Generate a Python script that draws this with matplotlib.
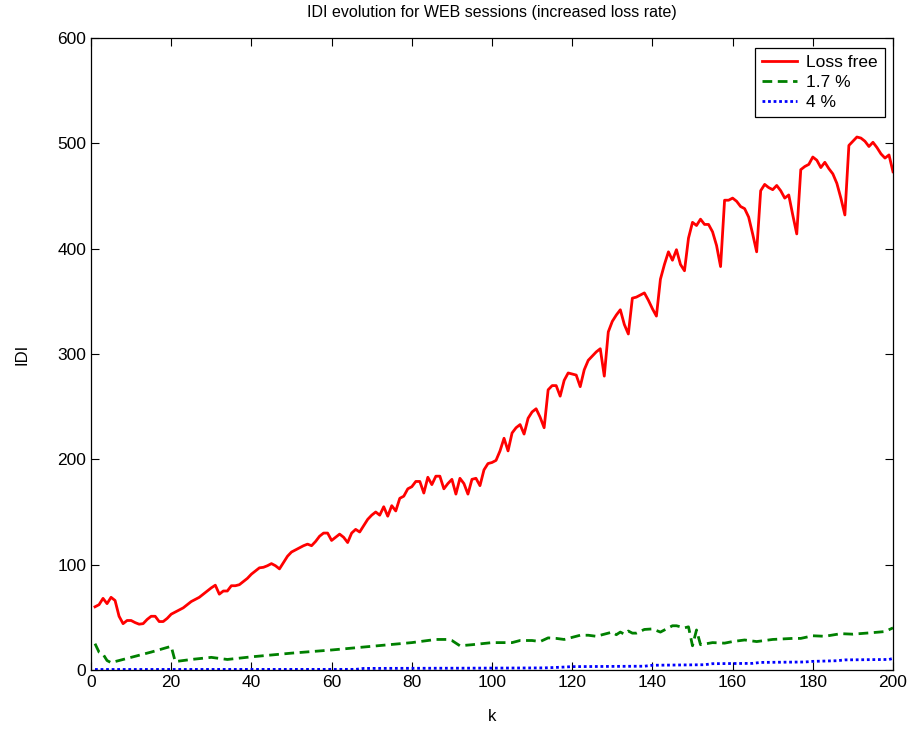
import matplotlib
matplotlib.use("Agg")
import matplotlib.pyplot as plt
import numpy as np

plt.rcParams['font.family'] = ['Liberation Sans', 'DejaVu Sans']

k = list(range(1, 201))
loss_free = [
    60, 62, 68, 63, 69, 66, 51, 44, 47, 47,
    45, 43.5, 44, 48, 51, 51, 46, 46, 49, 53,
    55, 57, 59, 62, 65, 67, 69, 72, 75, 78,
    80.5, 72, 75, 75, 80, 80, 81, 84, 87, 91,
    94, 97, 97.5, 99, 101, 99, 96, 102, 108, 112,
    114, 116, 118, 119.5, 118, 122, 127, 130, 130, 123,
    126, 129, 126, 121, 130, 133.5, 131, 137, 143, 147,
    150, 147, 155, 146, 156, 151, 163, 165, 172, 174,
    179, 179, 168, 183, 176, 184, 184, 172, 177, 181,
    167, 182, 177, 167, 181, 182, 175, 190, 196, 197,
    199, 208, 220, 208, 225, 230, 233, 224, 239, 245,
    248, 240, 230, 266, 270, 270, 260, 275, 282, 281,
    280, 269, 285, 294, 298, 302, 305, 279, 321, 331,
    337, 342, 328, 319, 353, 354, 356, 358, 351, 343,
    336, 371, 385, 397, 389, 399, 385, 379, 410, 425,
    422, 428, 423, 423, 416, 403, 383, 446, 446, 448,
    445, 440, 438, 430, 414, 397, 455, 461, 458, 456,
    460, 455, 448, 451, 432, 414, 475, 478, 480, 487,
    484, 477, 482, 476, 471, 462, 448, 432, 498, 502,
    506, 505, 502, 497, 501, 496, 490, 486, 489, 473,
]

k_green = [1, 2, 3, 4, 5, 10, 15, 20, 21, 25, 30, 32, 34, 40, 50, 60, 70, 80,
           86, 89, 90, 92, 95, 100, 105, 107, 110, 112, 114, 116, 118, 120,
           122, 124, 126, 128, 130, 131, 132, 133, 134, 135, 136, 138, 140,
           142, 143, 145, 146, 148, 149, 150, 151, 152, 155, 158, 160, 163,
           166, 170, 175, 177, 180, 183, 187, 190, 195, 198, 200]
loss_17 = [25, 17, 15, 9, 7, 12, 17, 22.5, 8, 10, 12, 11, 10, 12.5, 16, 19, 22.5, 26,
           29, 29, 28, 23, 24, 26, 26, 28, 28, 27, 30.5, 30, 29, 31,
           33, 33, 32, 34, 36, 33.5, 36, 34, 37, 35, 35, 38.5, 39,
           36, 38, 42, 42, 40, 41, 23, 38, 24, 26, 25.5, 27, 28.5,
           27, 29, 30, 30, 32.5, 32, 34.5, 34, 35.5, 36.5, 40]

k_blue = [1, 66, 68, 100, 113, 117, 120, 138, 140, 153, 155, 165, 167, 178, 180,
          186, 188, 199, 200]
loss_4 = [0.5, 0.6, 1.5, 1.8, 2.0, 2.6, 3.2, 3.6, 4.5, 5, 6, 6.3, 7.2, 7.6, 8.2,
          8.8, 9.6, 10, 11]

fig = plt.figure(figsize=(9.09, 7.31), dpi=100)
ax = fig.add_axes([91/909, 61/731, (893-91)/909, (670-38)/731])

ax.plot(k, loss_free, color='#ff0000', lw=2, label='Loss free')
ax.plot(k_green, loss_17, color='#008000', lw=2, ls=(0, (3.5, 2)), label='1.7 %')
ax.plot(k_blue, loss_4, color='#0000ff', lw=2, ls=(0, (1, 1)), label='4 %')

ax.set_xlim(0, 200)
ax.set_ylim(0, 600)
ax.set_xticks(range(0, 201, 20))
ax.set_yticks(range(0, 601, 100))
ax.tick_params(direction='in', top=True, right=True, labelsize=12.5, length=6, width=0.8)
for s in ax.spines.values():
    s.set_linewidth(0.9)

ax.set_title('IDI evolution for WEB sessions (increased loss rate)', fontsize=11.5, pad=15)
ax.set_xlabel('k', fontsize=12, labelpad=14)
ax.set_ylabel('IDI', fontsize=12, labelpad=20)

leg = ax.legend(loc='upper right', fontsize=12.5, frameon=True, fancybox=False,
                edgecolor='black', framealpha=1, borderpad=0.4, labelspacing=0.28,
                handlelength=2.0, handletextpad=0.55, borderaxespad=0,
                bbox_to_anchor=(0.990, 0.984))
leg.get_frame().set_linewidth(0.9)

fig.savefig('out.png', dpi=100)
